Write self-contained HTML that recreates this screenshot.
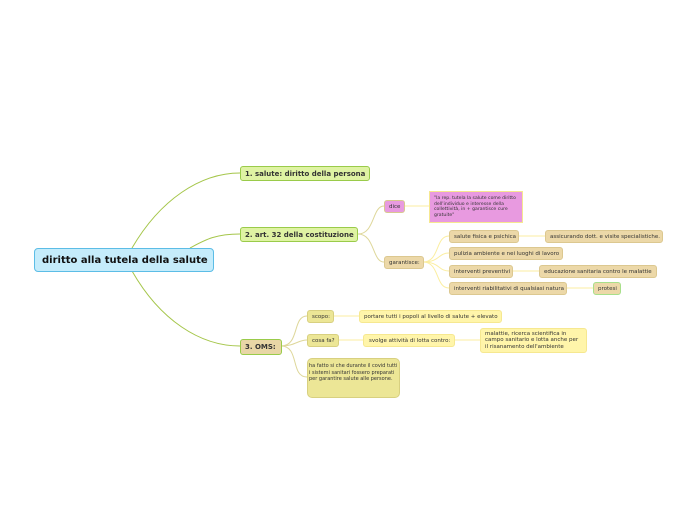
<!DOCTYPE html>
<html><head><meta charset="utf-8"><style>
body{margin:0;width:697px;height:520px;background:#fff;position:relative;overflow:hidden;font-family:"DejaVu Sans","Liberation Sans",sans-serif;}
.n{position:absolute;box-sizing:border-box;border-radius:3px;color:#333;display:flex;align-items:center;white-space:nowrap;font-size:5.5px;padding:0 4px;}
.t{background:#ecd8a8;border:1px solid #dcc890;}
.y{background:#fff5aa;border:1px solid #f6e890;}
.g{background:#dff3a3;border:1px solid #9acb4a;font-weight:bold;font-size:7px;color:#333;}
svg{position:absolute;left:0;top:0}
</style></head><body>
<svg width="697" height="520" fill="none">
<g stroke="#a5c64a" stroke-width="1">
<path d="M132 248 C160 200,200 173,240 173"/>
<path d="M190 248 C205 240,215 234,240 234"/>
<path d="M132 271 C160 320,200 346,240 346"/>
</g>
<g stroke="#ded79a" stroke-width="1">
<path d="M358 234 C375 234,372 206,384 206"/>
<path d="M358 234 C375 234,372 262,384 262"/>
<path d="M281 346 C300 346,292 316,307 316"/>
<path d="M281 346 C295 346,298 340,307 340"/>
<path d="M281 346 C300 346,290 377,307 377"/>
</g>
<g stroke="#fbeea0" stroke-width="1">
<path d="M404 206 L429 206"/>
<path d="M423 262 C440 262,435 236,449 236"/>
<path d="M423 262 C440 262,438 253,449 253"/>
<path d="M423 262 C440 262,438 271,449 271"/>
<path d="M423 262 C440 262,435 288,449 288"/>
<path d="M519 236 L545 236"/><path d="M513 271 L539 271"/><path d="M567 288 L593 288"/>
<path d="M333 316 L359 316"/><path d="M338 340 L363 340"/><path d="M454 340 L480 340"/>
</g>
</svg>
<div class="n" style="left:34px;top:248px;width:180px;height:24px;background:#c5ecfb;border:1.5px solid #5cbde6;border-radius:4px;font-size:10px;font-weight:bold;color:#111;padding-left:7px;">diritto alla tutela della salute</div>
<div class="n g" style="left:240px;top:166px;width:130px;height:15px;">1. salute: diritto della persona</div>
<div class="n g" style="left:240px;top:227px;width:118px;height:15px;">2. art. 32 della costituzione</div>
<div class="n" style="left:240px;top:339px;width:42px;height:16px;background:#e8d6a6;border:1px solid #9acb4a;font-weight:bold;font-size:7px;">3. OMS:</div>
<div class="n" style="left:384px;top:200px;width:21px;height:13px;background:#e89ae0;border:1px solid #d8c890;">dice</div>
<div class="n" style="left:429px;top:191px;width:94px;height:32px;background:#e89ae0;border:1px solid #f6e890;white-space:normal;font-size:4.6px;line-height:5.5px;padding:0 4px;border-radius:0;">"la rep. tutela la salute come diritto dell'individuo e interesse della collettività, in + garantisce cure gratuite"</div>
<div class="n t" style="left:384px;top:256px;width:40px;height:13px;">garantisce:</div>
<div class="n t" style="left:449px;top:230px;width:70px;height:13px;">salute fisica e psichica</div>
<div class="n t" style="left:545px;top:230px;width:118px;height:13px;">assicurando dott. e visite specialistiche.</div>
<div class="n t" style="left:449px;top:247px;width:114px;height:13px;">pulizia ambiente e nei luoghi di lavoro</div>
<div class="n t" style="left:449px;top:265px;width:64px;height:13px;">interventi preventivi</div>
<div class="n t" style="left:539px;top:265px;width:118px;height:13px;">educazione sanitaria contro le malattie</div>
<div class="n t" style="left:449px;top:282px;width:118px;height:13px;">interventi riabilitativi di qualsiasi natura</div>
<div class="n t" style="left:593px;top:282px;width:28px;height:13px;border-color:#a8df8a;">protesi</div>
<div class="n" style="left:307px;top:310px;width:27px;height:13px;background:#ece696;border:1px solid #d8d080;">scopo:</div>
<div class="n y" style="left:359px;top:310px;width:143px;height:13px;">portare tutti i popoli al livello di salute + elevato</div>
<div class="n" style="left:307px;top:334px;width:32px;height:13px;background:#ece696;border:1px solid #d8d080;">cosa fa?</div>
<div class="n y" style="left:363px;top:334px;width:92px;height:13px;padding-left:5px;">svolge attività di lotta contro:</div>
<div class="n y" style="left:480px;top:328px;width:107px;height:25px;white-space:normal;line-height:6.5px;padding:0 4px;">malattie, ricerca scientifica in campo sanitario e lotta anche per il risanamento dell'ambiente</div>
<div class="n" style="left:307px;top:358px;width:93px;height:40px;background:#ece696;border:1px solid #d8d080;border-radius:5px;white-space:normal;font-size:5px;line-height:6.5px;align-items:flex-start;padding:4px 1px;">ha fatto si che durante il covid tutti i sistemi sanitari fossero preparati per garantire salute alle persone.</div>
</body></html>
